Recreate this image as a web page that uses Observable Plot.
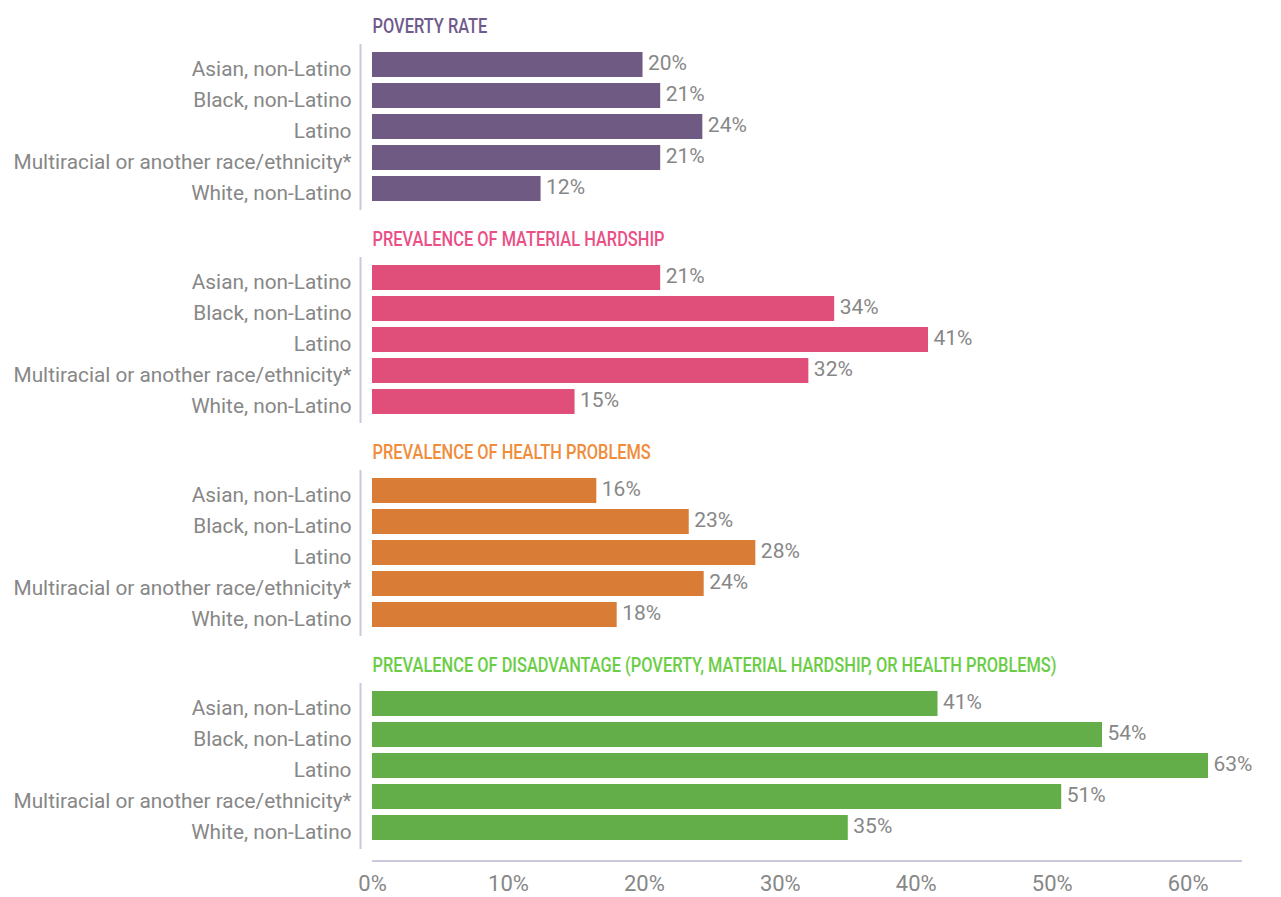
<!DOCTYPE html>
<html><head><meta charset="utf-8">
<script src="https://cdn.jsdelivr.net/npm/d3@7"></script>
<script src="https://cdn.jsdelivr.net/npm/@observablehq/plot@0.6"></script>
<style>body{margin:0;background:#fff}</style>
</head><body><div id="chart"></div>
<script>
const panels = [
  "POVERTY RATE",
  "PREVALENCE OF MATERIAL HARDSHIP",
  "PREVALENCE OF HEALTH PROBLEMS",
  "PREVALENCE OF DISADVANTAGE (POVERTY, MATERIAL HARDSHIP, OR HEALTH PROBLEMS)"
];
const groups = [
  "Asian, non-Latino",
  "Black, non-Latino",
  "Latino",
  "Multiracial or another race/ethnicity*",
  "White, non-Latino"
];
const povertyRate = [19.9, 21.2, 24.3, 21.2, 12.4];
const materialHardship = [21.2, 34.0, 40.9, 32.1, 14.9];
const healthProblems = [16.5, 23.3, 28.2, 24.4, 18.0];
const disadvantage = [41.6, 53.7, 61.5, 50.7, 35.0];
const povertyLabels = ["20%", "21%", "24%", "21%", "12%"];
const materialLabels = ["21%", "34%", "41%", "32%", "15%"];
const healthLabels = ["16%", "23%", "28%", "24%", "18%"];
const disadvantageLabels = ["41%", "54%", "63%", "51%", "35%"];
const barColors = ["#6e5a83", "#e04f79", "#d97c35", "#63ae48"];
const titleColors = ["#6f5a8c", "#ea4f86", "#f08c3a", "#6acd45"];
const xTicks = [0, 10, 20, 30, 40, 50, 60];

const seriesValues = [povertyRate, materialHardship, healthProblems, disadvantage];
const seriesLabels = [povertyLabels, materialLabels, healthLabels, disadvantageLabels];
const rows = [];
panels.forEach((p, i) => groups.forEach((g, j) => rows.push({
  panel: p, group: g, value: seriesValues[i][j], label: seriesLabels[i][j], color: barColors[i]
})));
const titles = panels.map((p, i) => ({panel: p, color: titleColors[i]}));
const lastRow = rows.filter(d => d.panel === panels[panels.length - 1] && d.group === groups[groups.length - 1]);

const gray = "#878787";
const lineColor = "#cbc8db";

const chart = Plot.plot({
  width: 1281,
  height: 897,
  marginLeft: 372,
  marginRight: 39,
  marginTop: 43,
  marginBottom: 47,
  style: {fontFamily: "Roboto, sans-serif", background: "#fff"},
  x: {domain: [0, 64]},
  y: {domain: groups, paddingInner: 0.19, paddingOuter: 0.2},
  fy: {domain: panels, axis: null, paddingInner: 0.22, paddingOuter: 0},
  color: {type: "identity"},
  marks: [
    Plot.ruleX(titles, {fy: "panel", x: 0, dx: -12, stroke: lineColor, strokeWidth: 2}),
    Plot.barX(rows, {x: "value", y: "group", fy: "panel", fill: "color"}),
    Plot.text(rows, {x: "value", y: "group", fy: "panel", text: "label", textAnchor: "start", dx: 5, dy: -2,
      fill: gray, fontSize: 21}),
    Plot.text(titles, {fy: "panel", text: "panel", fill: "color", frameAnchor: "top-left",
      lineAnchor: "bottom", dy: -12, fontSize: 20.5, fontWeight: 500, className: "ptitle"}),
    Plot.ruleY(lastRow, {y: "group", fy: "panel", dy: 33, stroke: lineColor, strokeWidth: 2}),
    Plot.axisX(xTicks, {tickSize: 0, tickPadding: 26, tickFormat: d => d + "%", fontSize: 22,
      fill: gray, label: null}),
    Plot.axisY({tickSize: 0, tickPadding: 21, dy: 4, fontSize: 20.8, fill: gray, label: null})
  ]
});
document.getElementById("chart").appendChild(chart);
// condensed look for the panel titles
d3.select(chart).selectAll(".ptitle text").each(function() {
  const len = this.getComputedTextLength();
  this.setAttribute("textLength", len * 0.8);
  this.setAttribute("lengthAdjust", "spacingAndGlyphs");
});
</script>
</body></html>
